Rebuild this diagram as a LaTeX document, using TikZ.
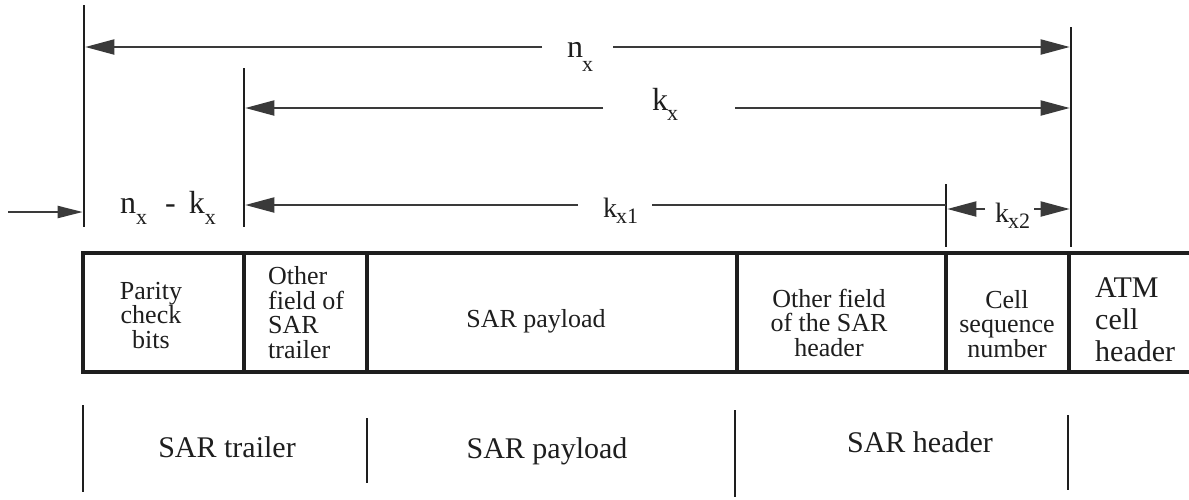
\documentclass[tikz,border=0pt]{standalone}
\usepackage{fontspec}
\setmainfont{Liberation Serif}
\usetikzlibrary{arrows.meta}

\definecolor{ink}{HTML}{1E1E1E}
\definecolor{headgray}{HTML}{3A3A3A}

% main letter with a lowered subscript
\newcommand{\lowsub}[4]{#1\kern#3\raisebox{#4}{\fontsize{22}{22}\selectfont #2}}

\tikzset{
  guide/.style={line width=2.6pt, draw=ink},
  dimline/.style={line width=2pt, draw=headgray},
  dimarrow/.style={dimline, shorten >=1.3pt,
    -{Triangle[length=29pt,width=15pt,color=headgray]}},
  feedarrow/.style={dimline, shorten >=1.3pt,
    -{Triangle[length=25pt,width=12pt,color=headgray]}},
  cellwall/.style={line width=4pt, draw=ink},
  tick/.style={line width=2.6pt, draw=ink},
  dimlabel/.style={inner sep=0pt, text=ink, font=\rmfamily\fontsize{32}{32}\selectfont},
  smalldimlabel/.style={inner sep=0pt, text=ink, font=\rmfamily\fontsize{28}{28}\selectfont},
  celltext/.style={inner sep=0pt, text=ink, font=\rmfamily\fontsize{26}{24.5}\selectfont},
  partlabel/.style={inner sep=0pt, text=ink, font=\rmfamily\fontsize{30}{30}\selectfont},
}

\begin{document}
\begin{tikzpicture}[x=1pt,y=-1pt]
\useasboundingbox[fill=white] (0,0) rectangle (1189,499);

% ---------- vertical guide lines of the dimensions ----------
\coordinate (g1t) at (84,5);    \coordinate (g1b) at (84,227);
\coordinate (g2t) at (244,68);  \coordinate (g2b) at (244,227);
\coordinate (g3t) at (1071,27); \coordinate (g3b) at (1071,247);
\coordinate (g4t) at (946,184); \coordinate (g4b) at (946,247);
\draw[guide] (g1t) -- (g1b);
\draw[guide] (g2t) -- (g2b);
\draw[guide] (g3t) -- (g3b);
\draw[guide] (g4t) -- (g4b);

% ---------- n_x ----------
\node[dimlabel, anchor=base west] (nx) at (567,57) {\lowsub{n}{x}{-1pt}{-14pt}};
\coordinate (nxL) at (542,47);
\coordinate (nxR) at (613,47);
\draw[dimarrow] (nxL) -- (nxL -| g1t);
\draw[dimarrow] (nxR) -- (nxR -| g3t);

% ---------- k_x ----------
\node[dimlabel, anchor=base west] (kx) at (652,110) {\lowsub{k}{x}{-1pt}{-10pt}};
\coordinate (kxL) at (603,108);
\coordinate (kxR) at (735,108);
\draw[dimarrow] (kxL) -- (kxL -| g2t);
\draw[dimarrow] (kxR) -- (kxR -| g3t);

% ---------- k_x1 ----------
\node[smalldimlabel, anchor=base west] (kxa) at (603,217) {\lowsub{k}{x1}{-1pt}{-6pt}};
\coordinate (kxaL) at (578,205);
\coordinate (kxaR) at (652,205);
\draw[dimarrow] (kxaL) -- (kxaL -| g2t);
\draw[dimline] (kxaR) -- (kxaR -| g4t);

% ---------- k_x2 ----------
\node[smalldimlabel, anchor=base west] (kxb) at (995,222) {\lowsub{k}{x2}{-1pt}{-6pt}};
\coordinate (kxbL) at (985,209);
\coordinate (kxbR) at (1034,209);
\draw[dimarrow] (kxbL) -- (kxbL -| g4t);
\draw[dimarrow] (kxbR) -- (kxbR -| g3t);

% ---------- n_x - k_x ----------
\node[dimlabel, anchor=base west] (nmk) at (120,213)
  {\lowsub{n}{x}{0pt}{-11pt}\hspace{18pt}-\hspace{13pt}\lowsub{k}{x}{0pt}{-11pt}};
\coordinate (inS) at (8,212);
\draw[feedarrow] (inS) -- (inS -| g1t);

% ---------- cell layout ----------
\coordinate (boxNW) at (83,253);
\coordinate (boxSW) at (83,372);
\coordinate (boxNE) at (1191,253);
\coordinate (boxSE) at (1191,372);
\draw[cellwall] (boxNE) -- (boxNW) -- (boxSW) -- (boxSE);
\foreach \dx in {244,367,737,946,1069}
  \draw[cellwall] (\dx,253) -- (\dx,372);

% multi-line texts are placed by the baseline of their last line
\node[celltext, anchor=base, align=center] (parity) at (151,348)
  {Parity\\check\\bits};
\node[celltext, anchor=base west, align=left] (trailerfield) at (268,358)
  {Other\\field of\\SAR\\trailer};
\node[celltext, anchor=base] (payload) at (536,327) {SAR payload};
\node[celltext, anchor=base, align=center] (headerfield) at (829,356)
  {Other field\\of the SAR\\header};
\node[celltext, anchor=base, align=center] (seqno) at (1007,357)
  {Cell\\sequence\\number};
\node[celltext, anchor=base west, align=left,
      font=\rmfamily\fontsize{30}{32}\selectfont] (atmhdr) at (1095,361)
  {ATM\\cell\\header};

% ---------- grouping underneath ----------
\coordinate (b1t) at (83,405);   \coordinate (b1b) at (83,492);
\coordinate (b2t) at (367,418);  \coordinate (b2b) at (367,483);
\coordinate (b3t) at (735,410);  \coordinate (b3b) at (735,497);
\coordinate (b4t) at (1068,415); \coordinate (b4b) at (1068,490);
\draw[tick] (b1t) -- (b1b);
\draw[tick] (b2t) -- (b2b);
\draw[tick] (b3t) -- (b3b);
\draw[tick] (b4t) -- (b4b);

\node[partlabel, anchor=base] (sartrailer) at (227,457) {SAR trailer};
\node[partlabel, anchor=base] (sarpayload) at (547,458) {SAR payload};
\node[partlabel, anchor=base] (sarheader) at (920,452) {SAR header};
\end{tikzpicture}
\end{document}
